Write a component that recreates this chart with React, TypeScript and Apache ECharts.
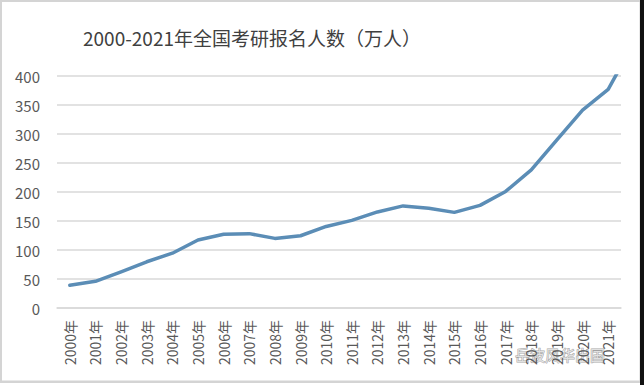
import React, { useEffect, useRef } from "react";
import * as echarts from "echarts";

const titleText = "2000-2021年全国考研报名人数（万人）";
const years = [
  "2000年", "2001年", "2002年", "2003年", "2004年", "2005年", "2006年", "2007年",
  "2008年", "2009年", "2010年", "2011年", "2012年", "2013年", "2014年", "2015年",
  "2016年", "2017年", "2018年", "2019年", "2020年", "2021年", "2022年",
];
const applicants = [
  39.2, 46, 62.4, 79.7, 94.5, 117.2, 127.1, 128.2, 120, 124.6, 140.6, 151.1,
  165.6, 176, 172, 164.9, 177, 201, 238, 290, 341, 377, 457,
];
const watermark = "岳波风华出国";

const FONT = "'Noto Sans CJK SC', 'Noto Sans', sans-serif";

export default function App() {
  const ref = useRef<HTMLDivElement>(null);
  useEffect(() => {
    document.body.style.margin = "0";
    if (!ref.current) return;
    const chart = echarts.init(ref.current, undefined, { renderer: "svg" });
    chart.setOption({
      animation: false,
      backgroundColor: "#ffffff",
      grid: { left: 57, right: 23, top: 76, bottom: 77, containLabel: false },
      xAxis: {
        type: "category",
        data: years,
        max: 21,
        boundaryGap: true,
        axisLine: { show: true, lineStyle: { color: "#d9d9d9", width: 1.5 } },
        axisTick: { show: false },
        axisLabel: {
          interval: 0,
          rotate: 90,
          margin: 12,
          color: "#595959",
          fontSize: 14,
          fontFamily: FONT,
        },
      },
      yAxis: {
        type: "value",
        min: 0,
        max: 400,
        interval: 50,
        axisLine: { show: false },
        axisTick: { show: false },
        splitLine: { lineStyle: { color: "#d9d9d9", width: 1.5 } },
        axisLabel: {
          margin: 17,
          color: "#595959",
          fontSize: 15,
          fontFamily: FONT,
        },
      },
      series: [
        {
          type: "line",
          data: applicants,
          symbol: "none",
          clip: true,
          lineStyle: { color: "#5b8db6", width: 3.5, cap: "round", join: "round" },
        },
      ],
      graphic: [
        {
          type: "rect",
          shape: { x: 0.75, y: 0.75, width: 640, height: 381 },
          style: { fill: "none", stroke: "#d4d4d4", lineWidth: 2.5 },
          silent: true,
        },
        {
          type: "rect",
          shape: { x: 640, y: 0, width: 4, height: 385 },
          style: { fill: "#111111" },
          silent: true,
        },
        {
          type: "text",
          x: 252,
          y: 37,
          style: {
            text: titleText,
            fill: "#404040",
            fontSize: 19,
            fontFamily: FONT,
            align: "center",
            verticalAlign: "middle",
          },
          silent: true,
        },
        {
          type: "text",
          x: 560,
          y: 354,
          style: {
            text: watermark,
            fill: "rgba(255,255,255,0.7)",
            stroke: "rgba(120,120,120,0.7)",
            lineWidth: 1,
            fontSize: 15,
            fontFamily: FONT,
            align: "center",
            verticalAlign: "middle",
          },
          silent: true,
        },
      ],
    });
    return () => chart.dispose();
  }, []);
  return <div ref={ref} style={{ width: 644, height: 385 }} />;
}
